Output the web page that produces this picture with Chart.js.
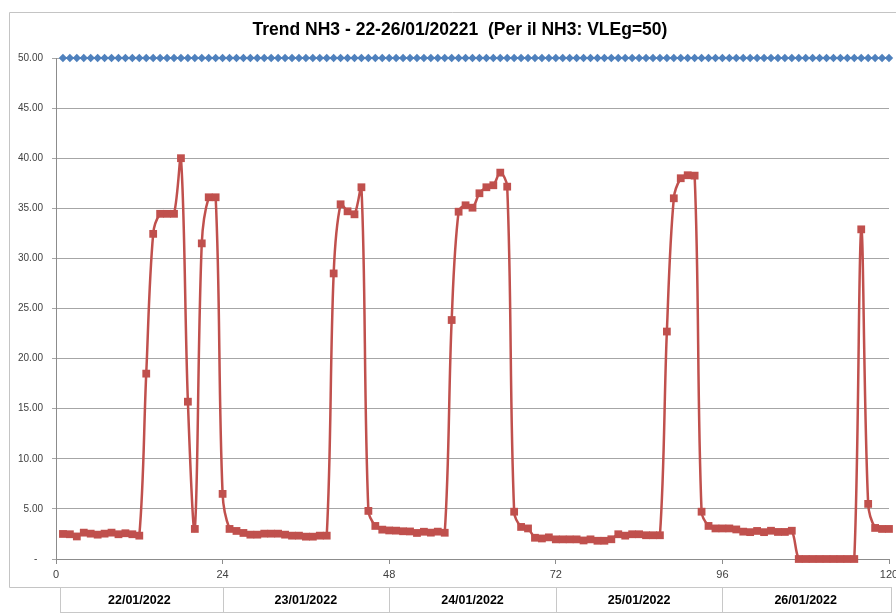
<!DOCTYPE html>
<html><head><meta charset="utf-8">
<script src="https://cdn.jsdelivr.net/npm/chart.js@4.4.1/dist/chart.umd.min.js"></script>
<style>html,body{margin:0;padding:0;background:#fff}#wrap{width:896px;height:614px;position:relative}</style>
</head><body><div id="wrap"><canvas id="c" width="896" height="614"></canvas></div>
<script>
const chartTitle = 'Trend NH3 - 22-26/01/20221  (Per il NH3: VLEg=50)';
const dayLabels = ['22/01/2022', '23/01/2022', '24/01/2022', '25/01/2022', '26/01/2022'];
const xTickValues = [0, 24, 48, 72, 96, 120];
const limitVLEg = 50;
// NH3 hourly values (hour 1 .. 120)
const nh3Day1 = [2.50, 2.47, 2.25, 2.63, 2.53, 2.43, 2.53, 2.63, 2.47, 2.57, 2.47, 2.33,
                 18.5, 32.45, 34.45, 34.45, 34.45, 40.0, 15.7, 3.0, 31.5, 36.1, 36.1, 6.5];
const nh3Day2 = [3.0, 2.8, 2.6, 2.43, 2.43, 2.53, 2.53, 2.53, 2.43, 2.33, 2.33, 2.23,
                 2.23, 2.33, 2.33, 28.5, 35.4, 34.7, 34.4, 37.1, 4.8, 3.3, 2.93, 2.85];
const nh3Day3 = [2.83, 2.77, 2.75, 2.6, 2.72, 2.63, 2.73, 2.62, 23.85, 34.66, 35.3, 35.06,
                 36.5, 37.1, 37.3, 38.56, 37.16, 4.72, 3.2, 3.05, 2.12, 2.05, 2.16, 1.96];
const nh3Day4 = [1.96, 1.96, 1.96, 1.85, 1.96, 1.82, 1.82, 1.97, 2.47, 2.33, 2.47, 2.47,
                 2.37, 2.37, 2.37, 22.7, 36.0, 38.0, 38.3, 38.26, 4.72, 3.3, 3.05, 3.05];
const nh3Day5 = [3.05, 2.95, 2.73, 2.68, 2.8, 2.68, 2.82, 2.7, 2.7, 2.82, 0, 0,
                 0, 0, 0, 0, 0, 0, 0, 32.9, 5.5, 3.1, 3.0, 3.0];

const nh3Values = [].concat(nh3Day1, nh3Day2, nh3Day3, nh3Day4, nh3Day5);
const nh3Points = nh3Values.map((v, i) => ({x: i + 1, y: v}));
const limitPoints = nh3Values.map((v, i) => ({x: i + 1, y: limitVLEg}));

const NARROW = '"Liberation Sans Narrow", "Liberation Sans", Arial, sans-serif';

const decor = {
  id: 'decor',
  beforeDraw(chart) {
    const ctx = chart.ctx;
    ctx.save();
    ctx.fillStyle = '#fff';
    ctx.fillRect(0, 0, chart.width, chart.height);
    ctx.strokeStyle = '#c4c4c4';
    ctx.lineWidth = 1;
    ctx.beginPath();
    ctx.moveTo(896, 12.5); ctx.lineTo(9.5, 12.5); ctx.lineTo(9.5, 587.5); ctx.lineTo(60, 587.5);
    ctx.stroke();
    ctx.restore();
  },
  afterDraw(chart) {
    const ctx = chart.ctx;
    const xs = chart.scales.x;
    ctx.save();
    ctx.fillStyle = '#000';
    ctx.font = 'bold 17.5px ' + NARROW;
    ctx.textAlign = 'center';
    ctx.textBaseline = 'middle';
    ctx.fillText(chartTitle, 460, 30);
    ctx.strokeStyle = '#c8c8c8';
    ctx.lineWidth = 1;
    dayLabels.forEach((d, i) => {
      const x0 = Math.round(xs.getPixelForValue(i * 24)) + (i === 0 ? 4 : 0) + 0.5;
      const x1 = Math.round(xs.getPixelForValue(i * 24 + 24)) + (i === 4 ? 2 : 0) + 0.5;
      ctx.strokeRect(x0, 587.5, x1 - x0, 25);
    });
    ctx.restore();
  }
};

new Chart(document.getElementById('c'), {
  type: 'line',
  data: {
    datasets: [
      {
        label: 'VLEg',
        data: limitPoints,
        borderColor: '#4F81BD',
        backgroundColor: '#4F81BD',
        borderWidth: 2,
        pointStyle: 'rectRot',
        pointRadius: 4.2,
        pointBorderWidth: 0,
        tension: 0,
        clip: false
      },
      {
        label: 'NH3',
        data: nh3Points,
        borderColor: '#C0504D',
        backgroundColor: '#C0504D',
        borderWidth: 2.5,
        pointStyle: 'rect',
        pointRadius: 5.5,
        pointBorderWidth: 0,
        tension: 0.35,
        clip: false
      }
    ]
  },
  options: {
    responsive: false,
    animation: false,
    layout: {padding: {top: 58, right: 7, left: 0, bottom: 0}},
    plugins: {legend: {display: false}, title: {display: false}, tooltip: {enabled: false}},
    scales: {
      x: {
        type: 'linear', position: 'bottom', weight: 0,
        min: 0, max: 120,
        afterBuildTicks: s => { s.ticks = xTickValues.map(v => ({value: v})); },
        ticks: {color: '#404040', font: {family: NARROW, size: 11}, padding: 4, maxRotation: 0, autoSkip: false},
        grid: {drawOnChartArea: false, drawTicks: true, tickLength: 5, color: '#8c8c8c'},
        border: {color: '#8c8c8c', width: 1},
        afterFit: s => { s.height = 28; s.paddingLeft = 0; s.paddingRight = 0; }
      },
      x2: {
        type: 'linear', position: 'bottom', weight: 1,
        min: 0, max: 120,
        afterBuildTicks: s => { s.ticks = dayLabels.map((d, i) => ({value: i * 24 + 12})); },
        ticks: {color: '#000', font: {family: NARROW, size: 12.5, weight: 'bold'}, padding: 6, maxRotation: 0, autoSkip: false,
                callback: (v, i) => dayLabels[i]},
        grid: {display: false, drawTicks: false},
        border: {display: false},
        afterFit: s => { s.height = 27; s.paddingLeft = 0; s.paddingRight = 0; }
      },
      y: {
        type: 'linear', min: 0, max: 50,
        ticks: {stepSize: 5, color: '#404040', font: {family: NARROW, size: 10}, padding: 9,
                callback: v => v === 0 ? '-  ' : v.toFixed(2)},
        grid: {color: '#a6a6a6', lineWidth: 1, drawTicks: true, tickLength: 4},
        border: {color: '#8c8c8c', width: 1},
        afterFit: s => { s.width = 56; s.paddingTop = 0; s.paddingBottom = 0; }
      }
    }
  },
  plugins: [decor]
});
</script></body></html>
